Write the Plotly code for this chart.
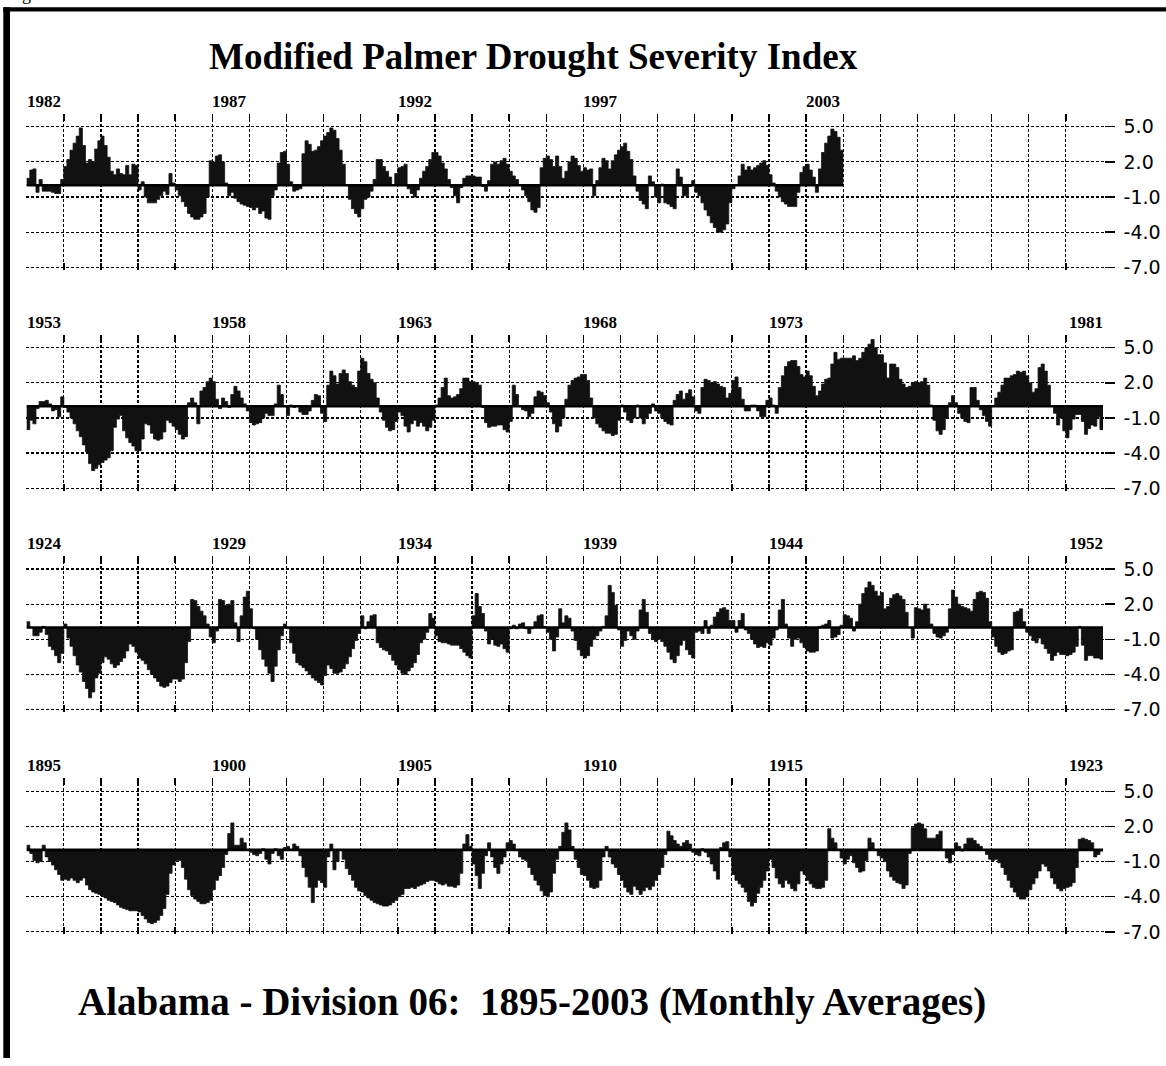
import plotly.graph_objects as go

# ---------------- DATA (monthly Modified PDSI, Jan..Dec per row) ----------------
pdsi_1895_1923 = [
    0.4, -0.3, -0.9, -1.1, -1.0, 0.4, -0.6, -1.0, -1.3, -1.7, -2.1, -2.6,   # 1895
    -2.5, -2.6, -2.4, -2.6, -2.8, -2.6, -2.4, -3.0, -3.4, -3.6, -3.7, -3.8,  # 1896
    -3.9, -4.1, -4.3, -4.4, -4.5, -4.7, -4.9, -5.0, -5.1, -5.2, -5.2, -5.2,  # 1897
    -5.3, -5.6, -5.9, -6.2, -6.3, -6.2, -6.0, -5.6, -5.0, -3.8, -2.0, -1.3,  # 1898
    -0.9, -0.9, -1.5, -2.5, -3.4, -3.9, -4.2, -4.4, -4.6, -4.6, -4.5, -4.3,  # 1899
    -3.4, -2.6, -2.2, -1.5, -0.4, 1.4, 2.3, 0.4, 0.4, 1.0, 0.6, 0.0,        # 1900
    -0.2, -0.4, -0.5, -0.3, 0.1, -0.8, -1.2, -0.3, 0.1, -0.5, -0.8, 0.2,     # 1901
    0.3, 0.0, 0.5, 0.3, -0.5, -1.5, -2.3, -3.2, -4.5, -3.2, -2.6, -2.8,      # 1902
    -3.2, -0.6, 0.5, -1.7, -1.0, 0.0, -0.8, -1.6, -2.1, -2.6, -3.2, -3.5,    # 1903
    -3.6, -3.9, -4.1, -4.3, -4.5, -4.6, -4.7, -4.8, -4.8, -4.7, -4.5, -4.3,  # 1904
    -4.0, -3.8, -3.3, -3.3, -3.2, -3.3, -3.1, -3.0, -2.9, -2.7, -2.6, -2.6,  # 1905
    -2.7, -2.9, -3.0, -2.9, -3.1, -3.1, -3.2, -3.0, -2.0, 0.5, 1.3, 0.3,     # 1906
    -1.2, -2.2, -3.3, -2.0, -0.5, 0.6, -0.6, -1.5, -2.0, -1.2, -0.6, 0.6,    # 1907
    0.8, 0.5, 0.0, -0.6, -0.8, -0.9, -1.5, -2.1, -2.6, -3.0, -3.5, -3.9,     # 1908
    -4.0, -3.6, -2.0, -0.8, 0.3, 1.5, 2.3, 1.7, 0.3, -0.8, -1.5, -2.1,      # 1909
    -2.2, -2.6, -3.2, -3.3, -3.2, -2.6, -0.6, 0.3, -0.6, -1.2, -1.5, -2.1,   # 1910
    -2.6, -3.2, -3.6, -3.8, -3.1, -3.4, -3.8, -3.5, -3.2, -3.4, -3.1, -2.6,  # 1911
    -2.1, -1.5, -0.4, 1.6, 1.2, 0.8, 0.5, 0.3, 0.6, 0.8, 0.5, -0.2,         # 1912
    -0.4, -0.5, 0.1, -0.2, -0.6, -1.2, -1.8, -2.5, 0.2, 0.6, 0.7, -0.6,      # 1913
    -2.1, -2.6, -2.9, -3.2, -3.6, -4.4, -4.8, -4.5, -3.7, -3.2, -2.6, -1.8,  # 1914
    -0.8, -1.5, -2.4, -2.9, -3.2, -2.6, -2.9, -3.3, -3.5, -2.9, -1.8, -2.1,  # 1915
    -2.6, -2.9, -3.2, -3.3, -3.3, -3.2, -2.6, 1.8, 1.0, 0.6, 0.0, -0.7,      # 1916
    -1.2, -0.8, -0.5, -1.1, -1.5, -1.9, -1.8, -0.9, 1.0, 0.6, 0.0, -0.5,     # 1917
    -0.7, -1.0, -1.8, -2.3, -2.6, -2.8, -2.9, -3.3, -3.0, -0.3, 1.9, 2.2,    # 1918
    2.3, 2.2, 1.8, 1.0, 1.0, 1.0, 1.3, 1.6, 0.0, -0.7, -1.1, -0.4,          # 1919
    0.6, 0.3, -0.1, 0.5, 1.0, 1.0, 0.8, 0.5, 0.3, 0.0, -0.4, -0.8,          # 1920
    -0.9, -0.8, -1.1, -1.5, -2.1, -2.6, -3.2, -3.6, -4.0, -4.2, -4.2, -4.0,  # 1921
    -3.4, -2.9, -2.4, -1.8, -1.2, -1.4, -1.8, -2.4, -2.9, -3.3, -3.5, -3.3,  # 1922
    -3.2, -3.1, -2.8, -1.5, 0.9, 1.0, 0.9, 0.8, 0.6, -0.6, -0.4, -0.1,      # 1923
]

pdsi_1924_1952 = [
    0.5, 0.0, -0.7, -0.7, -0.4, 0.1, -0.6, -1.6, -1.9, -2.4, -3.0, -2.2,    # 1924
    0.3, -0.9, -1.6, -2.4, -3.2, -3.8, -4.6, -5.2, -6.0, -5.5, -4.3, -3.9,  # 1925
    -3.0, -2.5, -2.7, -3.1, -3.4, -3.2, -2.9, -2.6, -2.0, -1.4, -1.6, -2.1, # 1926
    -2.6, -2.8, -3.1, -3.6, -4.0, -4.3, -4.6, -5.0, -5.1, -5.0, -4.7, -4.4, # 1927
    -4.4, -4.6, -4.4, -3.0, -1.2, 2.4, 2.3, 1.8, 1.4, 1.0, 0.3, -0.8,      # 1928
    -1.3, -0.3, 2.4, 2.3, 1.9, 2.0, 2.3, 0.4, -1.2, 1.0, 2.6, 3.1,         # 1929
    1.6, -0.1, -1.0, -1.9, -2.7, -3.3, -3.9, -4.6, -3.3, -1.9, -0.7, 0.3,   # 1930
    -0.1, -1.3, -2.2, -3.0, -3.2, -3.4, -3.7, -4.0, -4.3, -4.5, -4.7, -4.9, # 1931
    -4.1, -3.2, -3.5, -3.9, -3.9, -3.8, -3.5, -3.1, -2.5, -1.8, -1.1, -0.5, # 1932
    1.0, -0.1, 0.5, 1.0, 1.1, -1.3, -1.7, -1.9, -2.0, -2.3, -2.8, -3.2,     # 1933
    -3.6, -3.9, -4.0, -3.7, -3.4, -3.0, -2.3, -1.3, -1.0, -0.4, 1.2, 0.8,   # 1934
    -0.7, -1.2, -1.3, -1.3, -1.4, -1.5, -1.5, -1.5, -1.8, -2.1, -2.4, -2.6, # 1935
    1.0, 2.9, 1.8, 1.2, -0.3, -1.4, -1.0, -1.5, -1.6, -1.4, -1.8, -2.1,     # 1936
    -0.1, 0.2, -0.1, 0.3, 0.4, -0.1, -0.5, -0.1, 0.5, 1.0, 1.1, 0.1,        # 1937
    -0.4, -1.0, -2.0, -0.8, 1.6, 0.4, 1.0, 0.8, -0.3, -1.1, -1.9, -2.4,     # 1938
    -2.6, -2.4, -1.6, -1.0, -0.7, -0.3, 0.1, 1.0, 3.6, 3.0, 1.9, -0.2,      # 1939
    -1.6, -1.1, -0.3, -0.7, -1.0, -0.3, 1.5, 2.4, 1.3, -0.5, -1.0, -1.2,    # 1940
    -1.0, -1.2, -1.6, -2.1, -2.7, -3.0, -2.4, -1.5, -1.1, -1.9, -2.3, -2.6, # 1941
    -0.4, -0.3, -0.5, 0.6, -0.5, 0.2, 0.9, 1.3, 1.6, 1.7, 1.5, 0.6,         # 1942
    0.6, -0.4, 0.6, 1.2, -0.2, -0.5, -1.0, -1.4, -1.7, -1.6, -1.7, -1.3,    # 1943
    -1.5, -0.9, -0.2, 1.5, 2.4, 0.3, -0.9, -1.6, -1.0, -0.9, -1.3, -1.7,    # 1944
    -2.0, -2.1, -2.1, -2.0, 0.1, 0.2, 0.3, 0.6, -0.9, -0.8, -0.6, 0.2,      # 1945
    1.1, 1.0, 0.8, -0.3, 0.5, 2.0, 2.9, 3.4, 3.9, 3.6, 3.1, 2.7,            # 1946
    3.0, 1.6, 1.8, 2.5, 2.8, 2.9, 2.7, 2.4, 1.3, 0.0, -0.9, 1.7,            # 1947
    1.6, 1.5, 2.0, 1.6, 0.3, -0.5, -0.8, -0.9, -0.7, -0.4, 1.6, 3.2,        # 1948
    2.6, 2.0, 1.8, 1.7, 1.6, 1.4, 2.4, 3.0, 3.1, 3.0, 2.5, 0.5,             # 1949
    -0.8, -1.6, -2.1, -2.3, -2.2, -2.0, -1.9, 1.3, 1.4, 1.6, 0.5, -0.4,     # 1950
    -0.7, -1.1, -1.3, -0.9, -1.4, -1.8, -2.2, -2.8, -2.4, -2.1, -2.3, -2.3, # 1951
    -2.4, -2.3, -2.1, -1.6, 0.1, -1.5, -2.8, -2.4, -2.4, -2.6, -2.6, -2.7,  # 1952
]

pdsi_1953_1981 = [
    -2.0, -1.2, -1.5, -0.2, 0.4, 0.4, 0.5, 0.2, -0.4, -0.3, -0.9, 0.8,     # 1953
    -0.1, -0.5, -1.0, -1.5, -2.1, -2.6, -3.3, -3.9, -4.9, -5.5, -5.3, -5.0, # 1954
    -4.8, -4.6, -4.4, -3.8, -1.8, -1.1, -0.8, -2.1, -2.7, -3.1, -3.4, -3.8, # 1955
    -3.8, -2.8, -1.5, -1.6, -2.3, -2.8, -2.9, -2.8, -2.2, -1.2, -1.4, -1.7, # 1956
    -2.0, -2.4, -2.8, -2.6, 0.3, 0.7, 0.3, -1.5, 1.3, 1.6, 2.1, 2.4,       # 1957
    2.1, 0.6, -0.2, 0.7, 0.4, -0.1, 1.0, 1.7, 1.3, 0.7, 0.2, -0.4,         # 1958
    -1.4, -1.6, -1.5, -1.4, -1.0, -0.6, -0.8, -0.8, 0.2, 1.8, 1.0, 0.0,    # 1959
    -0.8, 0.1, -0.1, 0.0, -0.5, -0.7, -0.7, -0.4, 0.5, 1.0, 0.9, -0.6,     # 1960
    -1.3, 1.8, 3.0, 2.6, 1.9, 2.8, 3.1, 2.8, 2.1, 1.8, 1.6, 3.0,           # 1961
    4.1, 3.8, 2.8, 2.3, 2.0, 0.7, -0.5, -1.2, -1.8, -2.1, -2.0, -1.3,      # 1962
    -0.5, -0.8, -1.7, -2.2, -1.5, -1.2, -1.7, -1.4, -1.7, -2.1, -1.8, -1.2, # 1963
    0.1, 0.7, 1.6, 2.4, 0.9, 0.7, 0.8, 1.0, 1.5, 2.4, 2.4, 2.1,            # 1964
    2.1, 2.0, 1.8, -0.1, -1.4, -1.8, -1.7, -1.7, -1.6, -1.6, -2.0, -2.2,   # 1965
    -1.3, 1.8, 1.0, 0.0, -0.3, -0.4, -0.9, -0.6, 0.8, 1.3, 1.2, 0.9,       # 1966
    0.3, -0.5, -1.5, -2.2, -1.7, -1.0, 0.6, 1.8, 2.2, 2.4, 2.5, 2.7,       # 1967
    2.7, 2.2, 0.7, -1.0, -1.5, -1.8, -2.1, -2.3, -2.3, -2.5, -2.4, -1.2,   # 1968
    0.1, -0.5, -1.2, -1.4, -1.0, 0.1, -1.0, -1.5, -1.0, -0.6, 0.2, -0.4,   # 1969
    -0.6, -1.0, -1.3, -1.5, -1.6, 0.5, 1.0, 1.3, 0.6, 1.1, 1.4, 0.8,       # 1970
    -0.4, -0.6, 1.6, 2.3, 2.2, 2.0, 2.1, 1.9, 1.7, 1.6, 0.7, 1.1,          # 1971
    2.2, 2.5, 1.6, 0.6, -0.4, -0.4, 0.1, 0.1, -0.4, -0.9, -0.9, 0.5,       # 1972
    0.7, 0.1, -0.6, 1.6, 2.6, 3.4, 3.8, 3.9, 3.9, 3.4, 2.7, 2.5,           # 1973
    3.0, 2.6, 1.7, 0.9, 1.3, 1.9, 2.3, 2.4, 3.6, 4.6, 4.0, 4.1,            # 1974
    4.1, 4.1, 4.1, 4.3, 3.9, 4.1, 4.6, 5.0, 5.3, 5.7, 5.0, 4.4,            # 1975
    4.4, 3.7, 2.4, 3.6, 3.6, 3.3, 2.3, 1.9, 1.6, 1.7, 2.0, 2.1,            # 1976
    2.0, 2.1, 2.4, 1.8, 0.1, -1.2, -2.1, -2.4, -2.0, -1.0, 0.3, 0.9,       # 1977
    0.3, -0.6, -1.0, -1.3, -1.4, 1.6, 1.6, 0.5, -0.3, -0.8, -1.3, -1.7,    # 1978
    0.0, 0.7, 1.2, 1.8, 2.4, 2.4, 2.6, 2.7, 3.0, 2.9, 3.0, 2.6,            # 1979
    2.0, 1.2, 1.5, 3.3, 3.6, 3.0, 1.8, 0.0, -0.6, -1.6, -1.0, -2.1,        # 1980
    -2.7, -2.0, -1.1, -0.7, -0.7, -1.3, -2.4, -1.9, -1.6, -1.7, -0.9, -2.0, # 1981
]

pdsi_1982_2003 = [
    0.6, 1.3, 1.4, -0.6, 0.5, -0.5, -0.5, -0.5, -0.6, -0.7, -0.7, 0.5,     # 1982
    1.6, 2.2, 3.0, 3.6, 4.2, 4.9, 3.4, 1.9, 2.2, 2.0, 3.1, 3.8,            # 1983
    4.2, 3.4, 2.4, 1.2, 0.9, 1.4, 1.0, 0.9, 1.7, 0.9, 1.8, 1.7,            # 1984
    -0.4, 0.3, -1.0, -1.5, -1.5, -1.5, -1.2, -0.9, -0.5, -0.8, 1.0, 0.2,   # 1985
    -0.4, -0.9, -1.4, -1.8, -2.4, -2.7, -2.9, -2.9, -2.7, -2.4, -1.0, 2.1, # 1986
    2.0, 2.5, 2.6, 2.0, 0.2, -0.9, -0.6, -1.1, -1.4, -1.6, -1.7, -1.8,     # 1987
    -1.9, -2.1, -1.9, -2.4, -2.2, -2.8, -2.9, -0.9, -0.4, 1.9, 2.8, 2.9,   # 1988
    1.8, 0.3, -0.5, -0.4, -0.3, 2.7, 3.8, 3.5, 2.9, 3.0, 3.3, 3.8,         # 1989
    4.2, 4.5, 4.9, 4.7, 4.0, 3.0, 1.8, 0.0, -1.2, -2.0, -2.4, -2.7,        # 1990
    -2.0, -1.2, -1.0, -0.5, 0.5, 2.2, 2.2, 1.6, 1.2, 0.7, 0.0, 1.0,        # 1991
    1.5, 1.6, 1.8, -0.3, -0.7, -1.0, -0.4, 0.6, 1.2, 1.6, 2.2, 2.8,        # 1992
    2.8, 2.5, 1.9, 1.4, 0.5, -0.2, -0.9, -1.5, -0.2, 0.6, 0.8, 0.8,        # 1993
    0.8, 0.7, 0.7, -0.1, -0.5, 0.4, 1.8, 2.0, 1.8, 2.1, 2.3, 1.8,          # 1994
    1.2, 0.8, 0.5, 0.0, -0.4, -0.9, -1.4, -2.1, -2.3, -1.9, 1.5, 2.3,      # 1995
    2.5, 2.2, 1.6, 2.5, 1.6, 0.6, 1.2, 2.0, 2.5, 2.3, 1.7, 1.2,            # 1996
    1.5, 1.3, 1.4, -0.9, 0.4, 1.5, 2.3, 2.1, 1.4, 2.1, 2.6, 3.0,           # 1997
    3.3, 3.6, 2.9, 2.2, 0.8, -0.5, -1.3, -1.6, -2.0, 0.8, 0.3, -1.0,       # 1998
    -1.5, 0.1, -1.5, -1.6, -1.8, -2.0, 1.4, 0.7, -0.9, -0.9, -0.1, 0.4,    # 1999
    -0.6, -0.9, -1.5, -2.1, -2.6, -3.2, -3.6, -4.0, -4.0, -3.8, -3.3, -1.5, # 2000
    -0.3, 0.0, 0.8, 1.8, 1.3, 1.6, 1.3, 1.5, 1.7, 1.9, 2.1, 1.7,           # 2001
    0.9, 0.2, -0.5, -1.0, -1.4, -1.6, -1.8, -1.8, -1.8, -0.6, 1.1, 1.6,    # 2002
    1.8, 1.3, 0.7, -0.6, 1.4, 2.8, 3.6, 4.2, 4.8, 4.6, 4.1, 3.0,           # 2003
]

panel_starts = [1982, 1953, 1924, 1895]           # top to bottom
panel_series = [pdsi_1982_2003, pdsi_1953_1981, pdsi_1924_1952, pdsi_1895_1923]
year_labels = [
    [1982, 1987, 1992, 1997, 2003],
    [1953, 1958, 1963, 1968, 1973, 1981],
    [1924, 1929, 1934, 1939, 1944, 1952],
    [1895, 1900, 1905, 1910, 1915, 1923],
]
ytick_vals = [5, 2, -1, -4, -7]
ytick_text = ["5.0", "2.0", "-1.0", "-4.0", "-7.0"]
title_text = "Modified Palmer Drought Severity Index"
subtitle_text = "Alabama - Division 06:\u00a0\u00a01895-2003 (Monthly Averages)"

# ---------------- LAYOUT GEOMETRY (pixels) ----------------
W, H = 1166, 1066
SPAN = 29                       # years per panel
LEFT_PX, RIGHT_PX = 26.7, 1103.0
PX_YEAR = (RIGHT_PX - LEFT_PX) / SPAN
PX_UNIT = 11.8
Y5_PX = [127.7, 350.3, 573.3, 797.3]
YMIN, YMAX = -7.2, 6.1
XPAD = 0.02
FILL = "#111111"
DASH = "3px,2px"
SERIF = "Liberation Serif"
SANS = "DejaVu Sans"

fig = go.Figure()
layout = dict(
    width=W, height=H, margin=dict(l=0, r=0, t=0, b=0),
    paper_bgcolor="white", plot_bgcolor="white", showlegend=False,
)
annotations = []

for k, (start, vals, labs) in enumerate(zip(panel_starts, panel_series, year_labels), start=1):
    sfx = "" if k == 1 else str(k)
    xref, yref = "x" + sfx, "y" + sfx
    n = len(vals)
    xs = [start + i / 12 for i in range(n + 1)]
    ys = list(vals) + [vals[-1]]
    fig.add_trace(go.Scatter(
        x=xs, y=ys, xaxis=xref, yaxis=yref, mode="lines",
        line=dict(color=FILL, width=0.8, shape="hv"),
        fill="tozeroy", fillcolor=FILL, hoverinfo="skip",
    ))
    fig.add_trace(go.Scatter(
        x=[start, start + n / 12], y=[0, 0], xaxis=xref, yaxis=yref, mode="lines",
        line=dict(color="black", width=2.6), hoverinfo="skip",
    ))

    y5 = Y5_PX[k - 1]
    top_px = y5 - (YMAX - 5) * PX_UNIT
    bot_px = y5 + (5 - YMIN) * PX_UNIT
    xdom = [(LEFT_PX - XPAD * PX_YEAR) / W, (RIGHT_PX + XPAD * PX_YEAR) / W]
    ydom = [1 - bot_px / H, 1 - top_px / H]

    layout["xaxis" + sfx] = dict(
        domain=xdom, range=[start - XPAD, start + SPAN + XPAD], anchor=yref,
        tickvals=list(range(start, start + SPAN + 1)), showticklabels=False,
        ticks="inside", ticklen=7, tickwidth=1.4, tickcolor="black",
        side="top", mirror="ticks", showline=False, zeroline=False,
        showgrid=True, gridcolor="black", gridwidth=1.2, griddash=DASH,
    )
    layout["yaxis" + sfx] = dict(
        domain=ydom, range=[YMIN, YMAX], anchor=xref, side="right",
        tickvals=ytick_vals, ticktext=ytick_text, ticks="outside", ticklen=10,
        tickwidth=1.4, tickcolor="black", ticklabelstandoff=5,
        tickfont=dict(family=SANS, size=19, color="black"),
        showgrid=True, gridcolor="black", gridwidth=1.2, griddash=DASH,
        zeroline=False, showline=False,
    )
    # short left-side ticks via overlaying axis
    layout["yaxis" + str(k + 4)] = dict(
        overlaying=yref, anchor=xref, side="left", range=[YMIN, YMAX],
        tickvals=ytick_vals, showticklabels=False, ticks="outside", ticklen=5,
        tickwidth=1.4, tickcolor="black", showgrid=False, zeroline=False, showline=False,
    )

    for j, yr in enumerate(labs):
        last = (j == len(labs) - 1) and k != 1
        annotations.append(dict(
            xref=xref, yref=yref + " domain", x=(start + SPAN) if last else yr, y=1,
            xanchor="right" if last else "left", yanchor="bottom", yshift=1,
            xshift=2 if last else -2,
            text="<b>%d</b>" % yr, showarrow=False,
            font=dict(family=SERIF, size=17, color="black"),
        ))

annotations.append(dict(
    xref="paper", yref="paper", x=533 / W, y=1 - 57 / H, xanchor="center", yanchor="middle",
    text="<b>" + title_text + "</b>", showarrow=False,
    font=dict(family=SERIF, size=37, color="black"),
))
annotations.append(dict(
    xref="paper", yref="paper", x=532 / W, y=1 - 1010 / H, xanchor="center", yanchor="middle",
    text="<b>" + subtitle_text + "</b>", showarrow=False,
    font=dict(family=SERIF, size=39, color="black"),
))
annotations.append(dict(
    xref="paper", yref="paper", x=20 / W, y=1 - 6 / H, xanchor="left", yanchor="bottom",
    text="g", showarrow=False, font=dict(family=SERIF, size=18, color="black"),
))
layout["annotations"] = annotations

layout["shapes"] = [
    dict(type="rect", xref="paper", yref="paper", x0=3.3 / W, x1=10 / W, y0=0, y1=1 - 7.3 / H,
         fillcolor="black", line=dict(width=0)),
    dict(type="rect", xref="paper", yref="paper", x0=3.3 / W, x1=1, y0=1 - 11.7 / H, y1=1 - 7.3 / H,
         fillcolor="black", line=dict(width=0)),
]

fig.update_layout(**layout)
fig.write_html("out.html", config={"displayModeBar": False, "staticPlot": True},
               post_script="document.body.style.margin='0px';")
